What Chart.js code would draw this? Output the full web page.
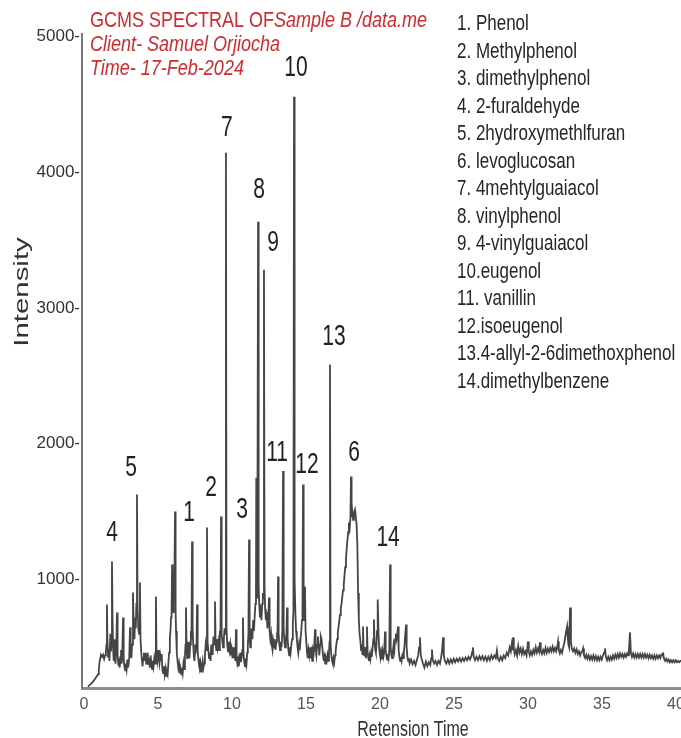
<!DOCTYPE html>
<html>
<head>
<meta charset="utf-8">
<title>GCMS spectral</title>
<script src="https://cdn.jsdelivr.net/npm/chart.js@4.4.1/dist/chart.umd.min.js"></script>
<style>
  html, body { margin: 0; padding: 0; background: #fff; overflow: hidden; }
  #chart { display: block; }
</style>
</head>
<body>
<canvas id="chart" width="700" height="738"></canvas>
<script>
// chromatogram trace: [retention time, intensity]
const trace = [
  [0.27,210],[0.45,228],[0.6,245],[0.75,268],[0.85,285],[0.95,300],[1.0,340],[1.05,390],[1.1,420],[1.15,445],
  [1.22,430],[1.3,445],[1.36,415],[1.42,440],[1.48,470],
  [1.52,520],[1.55,816],[1.58,560],[1.63,430],[1.68,480],[1.72,400],[1.78,600],[1.82,470],[1.85,520],[1.89,1133],
  [1.93,700],[1.97,480],[2.01,400],[2.05,560],[2.09,420],[2.13,380],[2.18,480],[2.23,757],[2.27,450],[2.32,370],
  [2.36,420],[2.41,350],[2.46,430],[2.5,480],[2.54,380],[2.58,420],[2.64,720],[2.68,420],[2.73,360],[2.78,330],
  [2.83,380],[2.88,340],[2.93,410],[2.97,350],
  [3.02,380],[3.06,430],[3.11,647],[3.15,460],[3.2,420],[3.25,520],[3.31,904],[3.36,640],[3.41,560],[3.45,720],
  [3.5,640],[3.54,820],[3.58,1626],[3.62,800],[3.67,640],[3.72,600],[3.78,978],[3.82,560],[3.87,460],[3.92,400],
  [3.96,360],[4.0,420],[4.05,460],[4.1,400],[4.15,460],[4.2,380],[4.25,420],[4.3,460],[4.35,370],[4.4,420],
  [4.45,350],[4.5,440],[4.55,380],[4.6,340],[4.65,400],[4.7,360],[4.75,420],[4.8,380],[4.86,875],[4.9,440],
  [4.95,400],[5.0,480],[5.05,420],[5.1,380],[5.15,440],[5.2,400],[5.25,450],[5.3,330],
  [5.35,310],[5.4,360],[5.45,300],[5.5,340],[5.55,290],[5.6,320],[5.65,300],[5.7,380],[5.75,460],[5.8,560],
  [5.85,640],[5.88,720],[5.92,780],[5.95,1110],[5.99,820],[6.02,760],[6.06,900],[6.1,860],[6.15,1501],[6.19,760],
  [6.22,620],[6.27,460],[6.32,400],[6.37,350],[6.42,380],[6.47,310],[6.52,340],[6.57,300],[6.62,350],[6.67,310],
  [6.72,380],[6.77,340],[6.82,440],[6.86,520],[6.89,794],[6.93,500],[6.97,420],[7.01,480],[7.05,540],[7.09,460],
  [7.13,420],[7.17,520],[7.22,620],[7.26,560],[7.3,1280],[7.34,640],[7.38,520],[7.42,440],[7.46,400],[7.5,460],
  [7.55,520],[7.6,480],[7.64,816],[7.68,480],[7.72,420],[7.77,370],[7.82,340],[7.87,380],[7.92,320],[7.97,360],
  [8.02,400],[8.07,350],[8.12,380],[8.17,440],[8.22,520],[8.27,480],[8.31,1383],[8.35,540],[8.4,480],[8.45,420],
  [8.5,460],[8.55,400],[8.6,520],[8.65,450],[8.7,480],[8.75,580],[8.79,520],[8.85,838],[8.89,540],[8.94,480],
  [8.98,560],[9.03,500],[9.08,540],[9.13,480],[9.18,620],[9.22,580],[9.26,1464],[9.3,600],[9.35,540],[9.4,500],
  [9.45,560],[9.5,640],[9.54,600],[9.59,4145],[9.63,640],[9.68,520],[9.73,470],[9.78,540],[9.83,480],[9.88,520],
  [9.93,440],[9.98,480],[10.03,420],[10.08,500],[10.13,420],[10.18,460],[10.23,400],[10.27,632],[10.31,420],[10.36,380],
  [10.41,410],[10.46,360],[10.51,420],[10.56,460],[10.6,390],[10.65,430],[10.7,480],[10.74,720],[10.78,440],[10.83,390],
  [10.88,360],[10.93,420],[10.98,380],[11.03,460],[11.07,520],[11.11,600],[11.15,1295],[11.19,560],[11.24,500],[11.28,580],
  [11.33,640],[11.38,560],[11.43,700],[11.48,620],[11.53,720],[11.58,820],[11.62,900],[11.64,1750],[11.67,940],[11.71,860],
  [11.76,3637],[11.8,960],[11.84,820],[11.89,720],[11.94,800],[11.99,700],[12.04,820],[12.08,900],[12.12,860],[12.16,3283],
  [12.2,940],[12.24,780],[12.29,700],[12.34,760],[12.39,640],[12.44,680],[12.5,867],[12.54,620],[12.59,560],[12.64,600],
  [12.69,520],[12.74,480],[12.79,540],[12.84,500],[12.89,560],[12.94,480],[12.99,540],[13.04,600],[13.08,620],[13.11,1022],
  [13.15,600],[13.2,520],[13.25,480],[13.3,540],[13.35,500],[13.4,620],[13.45,1800],[13.49,640],[13.54,540],[13.59,500],
  [13.64,560],[13.68,600],[13.72,794],[13.76,560],[13.81,480],[13.86,440],[13.91,500],[13.96,460],[14.01,520],[14.06,560],
  [14.11,680],[14.15,760],[14.19,4558],[14.23,1000],[14.28,760],[14.33,620],[14.38,560],[14.43,500],[14.48,460],[14.53,520],
  [14.58,480],[14.63,560],[14.68,620],[14.73,700],[14.76,760],[14.8,1700],[14.84,780],[14.88,700],[14.93,948],[14.97,620],
  [15.02,540],[15.07,460],[15.12,420],[15.17,480],[15.22,440],[15.27,500],[15.32,420],[15.37,460],[15.42,400],[15.47,480],
  [15.52,460],[15.56,520],[15.61,632],[15.65,480],[15.7,440],[15.75,520],[15.8,580],[15.85,520],[15.9,440],[15.95,520],
  [16.0,580],[16.05,560],[16.1,500],[16.15,440],[16.2,400],[16.25,430],[16.3,380],[16.35,420],[16.4,400],[16.45,440],
  [16.5,400],[16.55,460],[16.59,540],[16.62,2584],[16.66,520],[16.71,440],[16.76,400],[16.81,380],[16.86,420],[16.91,390],
  [16.96,440],[17.0,470],[17.05,520],[17.1,560],[17.15,610],[17.2,650],[17.25,700],[17.3,740],[17.35,790],[17.4,820],
  [17.45,870],[17.5,920],[17.55,960],[17.6,1030],[17.65,1090],[17.7,1150],[17.75,1230],[17.8,1290],[17.85,1350],[17.9,1420],
  [17.95,1380],[18.0,1450],[18.04,1759],[18.08,1460],[18.13,1500],[18.18,1440],[18.24,1490],[18.31,1515],[18.36,1470],[18.42,1400],
  [18.47,1250],[18.52,900],[18.57,700],[18.62,600],[18.68,540],[18.72,480],[18.77,520],[18.81,450],[18.85,654],[18.89,480],
  [18.93,440],[18.97,500],[19.01,460],[19.05,420],[19.09,500],[19.12,654],[19.16,470],[19.2,430],[19.25,400],[19.3,440],
  [19.35,410],[19.4,460],[19.45,430],[19.5,500],[19.55,560],[19.59,705],[19.63,540],[19.68,480],[19.72,460],[19.76,520],
  [19.8,620],[19.83,700],[19.86,853],[19.9,600],[19.94,500],[19.98,460],[20.03,420],[20.08,460],[20.13,410],[20.18,470],
  [20.23,430],[20.28,460],[20.34,617],[20.38,480],[20.43,440],[20.48,410],[20.53,450],[20.58,420],[20.63,480],[20.68,1110],
  [20.72,500],[20.77,440],[20.82,420],[20.87,470],[20.92,520],[20.97,480],[21.02,560],[21.07,600],[21.12,560],[21.17,600],
  [21.22,654],[21.26,480],[21.31,430],[21.36,400],[21.41,430],[21.46,400],[21.51,440],[21.56,420],[21.61,460],[21.66,520],
  [21.71,600],[21.76,668],[21.8,500],[21.85,430],[21.9,400],[21.95,420],[22.0,380],[22.1,410],[22.2,375],[22.3,400],
  [22.4,370],[22.5,410],[22.58,440],[22.64,500],[22.7,573],[22.75,450],[22.8,420],[22.9,380],[23.0,350],[23.1,395],
  [23.2,360],[23.3,390],[23.4,370],[23.46,420],[23.51,484],[23.56,410],[23.65,380],[23.75,400],[23.85,370],[23.95,400],
  [24.05,380],[24.12,420],[24.19,470],[24.26,573],[24.31,440],[24.38,400],[24.48,380],[24.58,410],[24.68,380],[24.78,410],
  [24.88,385],[24.98,415],[25.08,390],[25.18,415],[25.28,395],[25.38,420],[25.48,395],[25.58,420],[25.68,400],[25.78,425],
  [25.88,405],[25.98,430],[26.08,410],[26.18,440],[26.24,470],[26.28,499],[26.33,430],[26.42,405],[26.52,430],[26.62,405],
  [26.72,435],[26.82,410],[26.92,435],[27.02,405],[27.12,430],[27.22,400],[27.32,430],[27.42,405],[27.52,440],[27.62,415],
  [27.72,440],[27.82,420],[27.9,477],[27.96,420],[28.06,400],[28.16,430],[28.26,405],[28.36,440],[28.46,420],[28.56,460],
  [28.66,440],[28.76,500],[28.84,470],[28.9,520],[28.95,480],[28.99,573],[29.04,490],[29.1,450],[29.18,480],[29.26,440],
  [29.34,510],[29.42,460],[29.5,490],[29.58,450],[29.66,490],[29.74,450],[29.82,470],[29.9,440],[29.96,500],[30.0,543],
  [30.05,470],[30.12,440],[30.2,470],[30.28,445],[30.36,480],[30.44,455],[30.52,500],[30.6,460],[30.68,490],[30.74,470],
  [30.81,536],[30.86,470],[30.94,450],[31.02,480],[31.1,455],[31.18,495],[31.26,460],[31.34,490],[31.42,465],[31.5,495],
  [31.58,470],[31.66,505],[31.74,470],[31.82,495],[31.9,470],[31.97,500],[32.03,543],[32.08,480],[32.15,455],[32.22,480],
  [32.3,460],[32.38,500],[32.45,530],[32.52,580],[32.58,620],[32.64,654],[32.68,580],[32.73,520],[32.78,500],[32.84,794],
  [32.9,540],[32.96,490],[33.04,470],[33.12,490],[33.2,460],[33.28,485],[33.36,450],[33.44,470],[33.52,440],[33.6,465],
  [33.66,470],[33.72,492],[33.78,440],[33.86,420],[33.94,445],[34.02,415],[34.1,440],[34.18,410],[34.26,435],[34.34,410],
  [34.42,440],[34.5,410],[34.58,435],[34.66,405],[34.74,430],[34.82,405],[34.9,430],[34.98,410],[35.06,440],[35.14,460],
  [35.2,492],[35.26,430],[35.34,405],[35.42,430],[35.5,405],[35.58,430],[35.66,410],[35.74,440],[35.82,415],[35.9,445],
  [35.98,420],[36.06,450],[36.14,425],[36.22,455],[36.3,430],[36.38,450],[36.46,425],[36.54,450],[36.62,430],[36.7,455],
  [36.76,440],[36.82,480],[36.89,610],[36.95,460],[37.02,430],[37.1,455],[37.18,425],[37.26,450],[37.34,425],[37.42,450],
  [37.5,425],[37.58,450],[37.66,425],[37.74,450],[37.82,425],[37.9,450],[37.98,425],[38.06,445],[38.14,420],[38.22,445],
  [38.3,420],[38.38,440],[38.46,415],[38.54,440],[38.62,415],[38.7,440],[38.78,420],[38.86,440],[38.94,420],[39.02,445],
  [39.08,440],[39.12,462],[39.18,420],[39.26,400],[39.34,415],[39.42,395],[39.5,410],[39.58,390],[39.66,405],[39.74,390],
  [39.82,405],[39.9,390],[39.98,405],[40.06,390],[40.14,400],[40.22,390],[40.3,400],[40.4,395]
];
const retentionTime = trace.map(p => p[0]);
const intensity = trace.map(p => p[1]);

// numbered peaks
const peakNames = ['4', '5', '1', '2', '3', '7', '8', '9', '10', '11', '12', '13', '6', '14'];
const peakTimes = [1.89, 3.58, 7.30, 9.26, 11.15, 9.59, 11.76, 12.16, 14.19, 13.45, 14.80, 16.62, 18.04, 20.68];
const peakHeights = [1133, 1626, 1280, 1464, 1295, 4145, 3637, 3283, 4558, 1800, 1700, 2584, 1759, 1110];

const compounds = [
  '1. Phenol', '2. Methylphenol', '3. dimethylphenol', '4. 2-furaldehyde', '5. 2hydroxymethlfuran',
  '6. levoglucosan', '7. 4mehtylguaiacol', '8. vinylphenol', '9. 4-vinylguaiacol', '10.eugenol',
  '11. vanillin', '12.isoeugenol', '13.4-allyl-2-6dimethoxphenol', '14.dimethylbenzene'
];

const yTicks = [1000, 2000, 3000, 4000, 5000];
const xTicks = [0, 5, 10, 15, 20, 25, 30, 35, 40];

const FONT = '"Liberation Sans", Arial, Helvetica, sans-serif';
const RED = '#cf2a2f';

// label offsets from the peak apex, in pixels
const labelDx = [0, -6, -3, -10, -7, 1, 1, 9, 2, -6, 4, 4, 3, -2];
const labelDy = [-29, -27, -29, -29, -30, -25, -32, -27, -29, -18, -20, -28, -24, -27];

function stretchText(ctx, text, x, y, font, color, align, base, sy) {
    ctx.save();
    ctx.translate(x, y);
    ctx.scale(1, sy);
    ctx.font = font;
    ctx.fillStyle = color;
    ctx.textAlign = align;
    ctx.textBaseline = base;
    ctx.fillText(text, 0, 0);
    ctx.restore();
}

const textPlugin = {
    id: 'texts',
    afterDraw(chart) {
        const { ctx, scales: { x, y } } = chart;

        peakNames.forEach((name, i) => {
            const px = x.getPixelForValue(peakTimes[i]) + labelDx[i];
            const py = y.getPixelForValue(peakHeights[i]) + labelDy[i];
            stretchText(ctx, name, px, py, '21px ' + FONT, '#222', 'center', 'middle', 1.4);
        });

        // header in red
        ctx.save();
        ctx.font = '18px ' + FONT;
        const w = ctx.measureText('GCMS SPECTRAL OF').width;
        ctx.restore();
        stretchText(ctx, 'GCMS SPECTRAL OF', 90, 21, '18px ' + FONT, RED, 'left', 'middle', 1.25);
        stretchText(ctx, 'Sample B /data.me', 90 + w, 21, 'italic 18px ' + FONT, RED, 'left', 'middle', 1.25);
        stretchText(ctx, 'Client- Samuel Orjiocha', 90, 45, 'italic 18px ' + FONT, RED, 'left', 'middle', 1.25);
        stretchText(ctx, 'Time- 17-Feb-2024', 90, 69, 'italic 18px ' + FONT, RED, 'left', 'middle', 1.25);

        compounds.forEach((c, i) => {
            stretchText(ctx, c, 457, 24 + i * 27.5, '17px ' + FONT, '#262626', 'left', 'middle', 1.3);
        });

        // axis titles
        stretchText(ctx, 'Retension Time', 413, 736, '16px ' + FONT, '#333', 'center', 'alphabetic', 1.4);
        ctx.save();
        ctx.translate(28, 292);
        ctx.rotate(-Math.PI / 2);
        ctx.scale(1.4, 1);
        ctx.font = '21px ' + FONT;
        ctx.fillStyle = '#333';
        ctx.textAlign = 'center';
        ctx.textBaseline = 'alphabetic';
        ctx.fillText('Intensity', 0, 0);
        ctx.restore();
    }
};

Chart.defaults.font.family = FONT;

new Chart(document.getElementById('chart'), {
    type: 'line',
    data: {
        datasets: [{
            data: retentionTime.map((t, i) => ({ x: t, y: intensity[i] })),
            borderColor: '#454545',
            borderWidth: 1.8,
            pointRadius: 0,
            tension: 0,
            fill: false
        }]
    },
    options: {
        responsive: false,
        animation: false,
        layout: { padding: { top: 34, left: 0, right: 0, bottom: 0 } },
        plugins: { legend: { display: false }, tooltip: { enabled: false } },
        scales: {
            x: {
                type: 'linear',
                min: -0.135,
                max: 41.62,
                afterBuildTicks: axis => { axis.ticks = xTicks.map(v => ({ value: v })); },
                afterFit: scale => { scale.height = 50; },
                grid: { display: false, drawTicks: false },
                border: { display: true, color: '#8c8c8c', width: 3 },
                ticks: { autoSkip: false, maxRotation: 0, padding: 7, color: '#555', font: { size: 16 } }
            },
            y: {
                min: 200,
                max: 5020,
                afterBuildTicks: axis => { axis.ticks = yTicks.map(v => ({ value: v })); },
                afterFit: scale => { scale.width = 82; },
                grid: { display: false, drawTicks: false },
                border: { display: true, color: '#777', width: 2 },
                ticks: { padding: 2, color: '#333', font: { size: 17 }, callback: v => v + '-' }
            }
        }
    },
    plugins: [textPlugin]
});
</script>
</body>
</html>
